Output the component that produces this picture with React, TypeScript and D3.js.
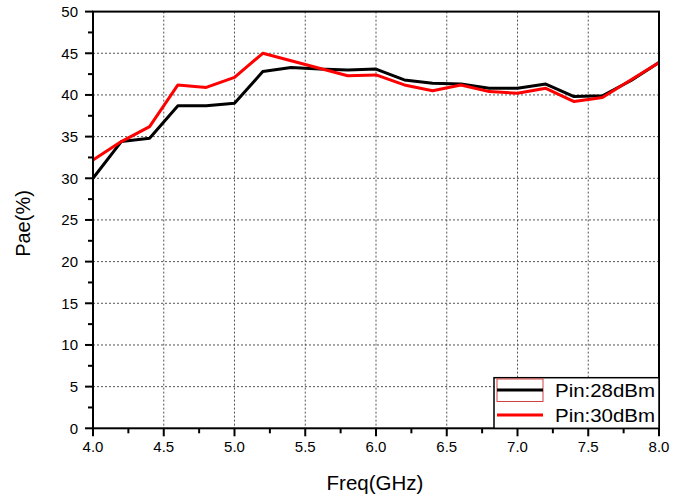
import * as d3 from 'd3'

// frequency points (GHz)
const freq = [4.0, 4.2, 4.4, 4.6, 4.8, 5.0, 5.2, 5.4, 5.6, 5.8, 6.0, 6.2, 6.4, 6.6, 6.8, 7.0, 7.2, 7.4, 7.6, 7.8, 8.0]
// PAE (%) at Pin = 28 dBm
const pae28 = [30.0, 34.4, 34.8, 38.7, 38.7, 39.0, 42.8, 43.3, 43.1, 43.0, 43.1, 41.8, 41.4, 41.3, 40.8, 40.8, 41.3, 39.8, 39.9, 41.7, 43.9]
// PAE (%) at Pin = 30 dBm
const pae30 = [32.2, 34.4, 36.2, 41.2, 40.9, 42.1, 45.0, 44.1, 43.2, 42.3, 42.4, 41.2, 40.5, 41.2, 40.4, 40.2, 40.8, 39.2, 39.7, 41.8, 43.9]

const xTicks = [4.0, 4.5, 5.0, 5.5, 6.0, 6.5, 7.0, 7.5, 8.0]
const yTicks = [0, 5, 10, 15, 20, 25, 30, 35, 40, 45, 50]
const seriesNames = ['Pin:28dBm', 'Pin:30dBm']
const seriesColors = ['#000000', '#ff0000']

const W = 685
const H = 497
const M = { left: 93, right: 659, top: 11.6, bottom: 428.3 }
const FONT = 'Arial, "Liberation Sans", sans-serif'

export default function App() {
  const x = d3.scaleLinear().domain([4, 8]).range([M.left, M.right])
  const y = d3.scaleLinear().domain([0, 50]).range([M.bottom, M.top])

  const mk = (vals: number[]) =>
    d3.line<number>().x((_, i) => x(freq[i])).y((d) => y(d))(vals) ?? ''

  const xMinor = d3.range(4.25, 8, 0.5)
  const yMinor = d3.range(2.5, 50, 5)

  return (
    <svg width={W} height={H} style={{ position: 'absolute', left: 0, top: 0, background: '#fff' }}>
      {/* grid */}
      {xTicks.slice(1, -1).map((t) => (
        <line key={'gx' + t} x1={x(t)} x2={x(t)} y1={M.top} y2={M.bottom} stroke="#555" strokeWidth={1} strokeDasharray="2,2" />
      ))}
      {yTicks.slice(1, -1).map((t) => (
        <line key={'gy' + t} x1={M.left} x2={M.right} y1={y(t)} y2={y(t)} stroke="#555" strokeWidth={1} strokeDasharray="2,2" />
      ))}

      {/* data */}
      <path d={mk(pae28)} fill="none" stroke={seriesColors[0]} strokeWidth={3} strokeLinejoin="round" />
      <path d={mk(pae30)} fill="none" stroke={seriesColors[1]} strokeWidth={3} strokeLinejoin="round" />

      {/* frame */}
      <rect x={M.left} y={M.top} width={M.right - M.left} height={M.bottom - M.top} fill="none" stroke="#000" strokeWidth={2} />

      {/* x ticks */}
      {xTicks.map((t) => (
        <g key={'xt' + t}>
          <line x1={x(t)} x2={x(t)} y1={M.bottom} y2={M.bottom + 8} stroke="#000" strokeWidth={2} />
          <text x={x(t)} y={452} textAnchor="middle" fontFamily={FONT} fontSize={15} fill="#000">
            {t.toFixed(1)}
          </text>
        </g>
      ))}
      {xMinor.map((t) => (
        <line key={'xm' + t} x1={x(t)} x2={x(t)} y1={M.bottom} y2={M.bottom + 5} stroke="#000" strokeWidth={2} />
      ))}

      {/* y ticks */}
      {yTicks.map((t) => (
        <g key={'yt' + t}>
          <line x1={M.left - 8} x2={M.left} y1={y(t)} y2={y(t)} stroke="#000" strokeWidth={2} />
          <text x={78} y={y(t) + 5.3} textAnchor="end" fontFamily={FONT} fontSize={15} fill="#000">
            {t}
          </text>
        </g>
      ))}
      {yMinor.map((t) => (
        <line key={'ym' + t} x1={M.left - 5} x2={M.left} y1={y(t)} y2={y(t)} stroke="#000" strokeWidth={2} />
      ))}

      {/* axis titles */}
      <text x={375} y={490} textAnchor="middle" fontFamily={FONT} fontSize={20.5} fill="#000">
        Freq(GHz)
      </text>
      <text transform={`translate(30,${223.5}) rotate(-90)`} textAnchor="middle" fontFamily={FONT} fontSize={20} fill="#000">
        Pae(%)
      </text>

      {/* legend */}
      <rect x={494} y={377.7} width={M.right - 494} height={M.bottom - 377.7} fill="#fff" stroke="#000" strokeWidth={1.5} />
      <rect x={497} y={379} width={46} height={22.5} fill="none" stroke="#d04040" strokeWidth={1} />
      {seriesNames.map((n, i) => (
        <g key={n}>
          <line x1={497} x2={543} y1={390 + i * 25} y2={390 + i * 25} stroke={seriesColors[i]} strokeWidth={3} />
          <text x={555} y={396.7 + i * 25} fontFamily={FONT} fontSize={19} textLength={100} lengthAdjust="spacingAndGlyphs" fill="#000">
            {n}
          </text>
        </g>
      ))}
    </svg>
  )
}
